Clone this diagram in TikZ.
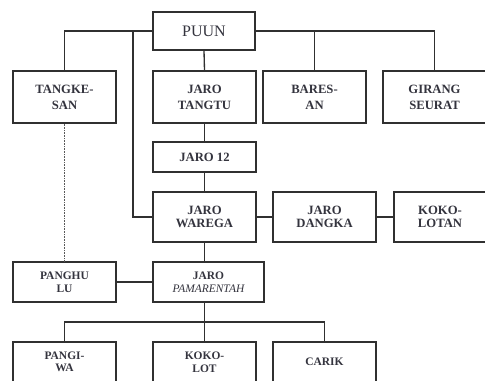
\documentclass[tikz,border=0pt]{standalone}
\usepackage{fontspec}
\setmainfont{Liberation Serif}
\definecolor{txt}{HTML}{34343E}
\definecolor{ln}{HTML}{303030}
\begin{document}
\begin{tikzpicture}[x=0.75pt,y=-0.75pt,
  box/.style={draw=ln,line width=1pt,fill=white,rectangle,inner sep=0pt,
    align=center,text=txt,font=\bfseries\fontsize{9.5}{12}\selectfont,
    minimum width=77.25pt},
  low/.style={font=\bfseries\fontsize{8.6}{9.4}\selectfont},
  conn/.style={draw=ln,line width=1pt}]
\useasboundingbox (0,0) rectangle (485,380);
\clip (0,0) rectangle (485,380);
% nodes
\node[box,minimum height=28.5pt,font=\fontsize{12}{14}\selectfont,minimum width=76.5pt] (puun) at (204,31) {PUUN};
\node[box,minimum height=39pt] (tangkesan) at (64.5,97) {TANGKE-\\SAN};
\node[box,minimum height=39pt] (tangtu) at (204.5,97) {JARO\\TANGTU};
\node[box,minimum height=39pt] (baresan) at (314.5,97) {BARES-\\AN};
\node[box,minimum height=39pt] (girang) at (434.5,97) {GIRANG\\SEURAT};
\node[box,minimum height=22.5pt] (jaro12) at (204.5,157) {JARO 12};
\node[box,minimum height=37.5pt,font=\bfseries\fontsize{9.5}{10}\selectfont] (warega) at (204.5,217) {JARO\\WAREGA};
\node[box,minimum height=37.5pt,font=\bfseries\fontsize{9.5}{10}\selectfont] (dangka) at (324.5,217) {JARO\\DANGKA};
\node[box,minimum height=37.5pt,minimum width=69pt,font=\bfseries\fontsize{9.5}{10}\selectfont] (kokolotan) at (440,217) {KOKO-\\LOTAN};
\node[box,low,minimum height=30pt] (panghulu) at (64.5,282) {PANGHU\\LU};
\node[box,low,minimum height=30pt,minimum width=83.25pt] (pamarentah) at (208.5,282) {JARO\\{\mdseries\itshape PAMARENTAH}};
\node[box,low,minimum height=30pt] (pangiwa) at (64.5,362) {PANGI-\\WA};
\node[box,low,minimum height=30pt] (kokolot) at (204.5,362) {KOKO-\\LOT};
\node[box,low,minimum height=30pt] (carik) at (324.5,362) {CARIK};
% coordinates
\coordinate (jw) at (133,31);
\coordinate (bus) at (204.5,322);
% connectors
\draw[conn] (puun.west) -| (tangkesan.north);
\draw[conn] (puun.east) -| (girang.north);
\draw[conn] (baresan.north) -- (baresan.north |- puun.east);
\draw[conn] (jw) |- (warega.west);
\draw[conn] (puun.south) -- (tangtu.north);
\draw[conn] (tangtu.south) -- (jaro12.north);
\draw[conn] (jaro12.south) -- (warega.north);
\draw[conn] (warega.east) -- (dangka.west);
\draw[conn] (dangka.east) -- (kokolotan.west);
\draw[conn] (warega.south) -- (warega.south |- pamarentah.north);
\draw[draw=ln!80,line width=1pt,dash pattern=on 0.6pt off 0.6pt] (tangkesan.south) -- (panghulu.north);
\draw[conn] (panghulu.east) -- (pamarentah.west);
\draw[conn] (bus |- pamarentah.south) -- (kokolot.north);
\draw[conn] (pangiwa.north) |- (bus) -| (carik.north);
\end{tikzpicture}
\end{document}
